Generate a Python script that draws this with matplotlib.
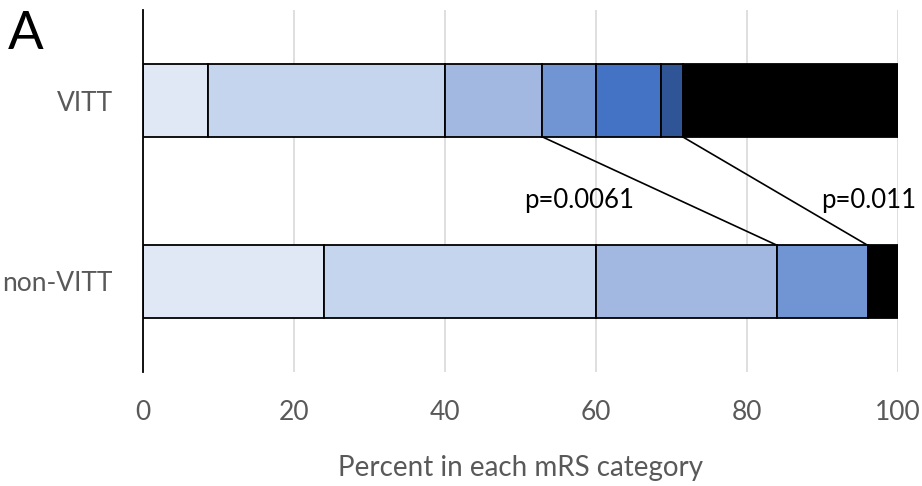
import numpy as np
import matplotlib
matplotlib.use("Agg")
import matplotlib.pyplot as plt

plt.rcParams['font.family'] = ['Lato', 'DejaVu Sans']

groups = ["VITT", "non-VITT"]
mrs_cats = ["0", "1", "2", "3", "4", "5", "6"]
vitt_pct = [8.6, 31.4, 12.9, 7.1, 8.6, 2.9, 28.6]
nonvitt_pct = [24.0, 36.0, 24.0, 12.0, 0.0, 0.0, 4.0]
colors = ["#E0E7F5", "#C5D5EE", "#A2B8E1", "#7194D2", "#4472C4", "#2F5597", "#000000"]

# p-values: mRS 0-2 cut and mRS 0-5 (alive) cut
cuts = [3, 6]
p_labels = ["p=0.0061", "p=0.011"]

fig = plt.figure(figsize=(9.22, 4.86), dpi=100)
ax = fig.add_axes([0.1548, 0.235, 0.8189, 0.744])

data = np.array([vitt_pct, nonvitt_pct])
h = 0.4
for gi in range(len(groups)):
    left = 0
    for ci in range(len(mrs_cats)):
        w = data[gi, ci]
        if w > 0:
            ax.barh(gi, w, left=left, height=h, color=colors[ci],
                    edgecolor="black", linewidth=1.3, zorder=3)
        left += w

cum_v = np.cumsum(vitt_pct)
cum_n = np.cumsum(nonvitt_pct)
for c in cuts:
    ax.plot([cum_v[c - 1], cum_n[c - 1]], [0 + h / 2, 1 - h / 2], color="black", lw=1.2, zorder=2)

ax.text(57.8, 0.55, p_labels[0], fontsize=18.5, ha="center", va="center")
ax.text(96.1, 0.55, p_labels[1], fontsize=18.5, ha="center", va="center")

ax.set_xlim(0, 100)
ax.set_ylim(1.5, -0.5)
ax.set_yticks(range(len(groups)))
ax.set_yticklabels(groups)
ax.set_xticks([0, 20, 40, 60, 80, 100])
ax.xaxis.grid(True, color="#D9D9D9", lw=1.2, zorder=0)
ax.set_axisbelow(True)
for s in ["top", "right", "bottom"]:
    ax.spines[s].set_visible(False)
ax.spines["left"].set_color("black")
ax.spines["left"].set_linewidth(1.3)
ax.spines["left"].set_zorder(4)
ax.tick_params(axis="both", length=0, labelcolor="#595959")
ax.tick_params(axis="x", pad=20, labelsize=19)
ax.tick_params(axis="y", pad=21.5, labelsize=19)
ax.set_xlabel("Percent in each mRS category", fontsize=20, color="#595959", labelpad=22)

fig.text(0.009, 0.978, "A", fontsize=38, ha="left", va="top")

fig.savefig("out.png", dpi=100)
